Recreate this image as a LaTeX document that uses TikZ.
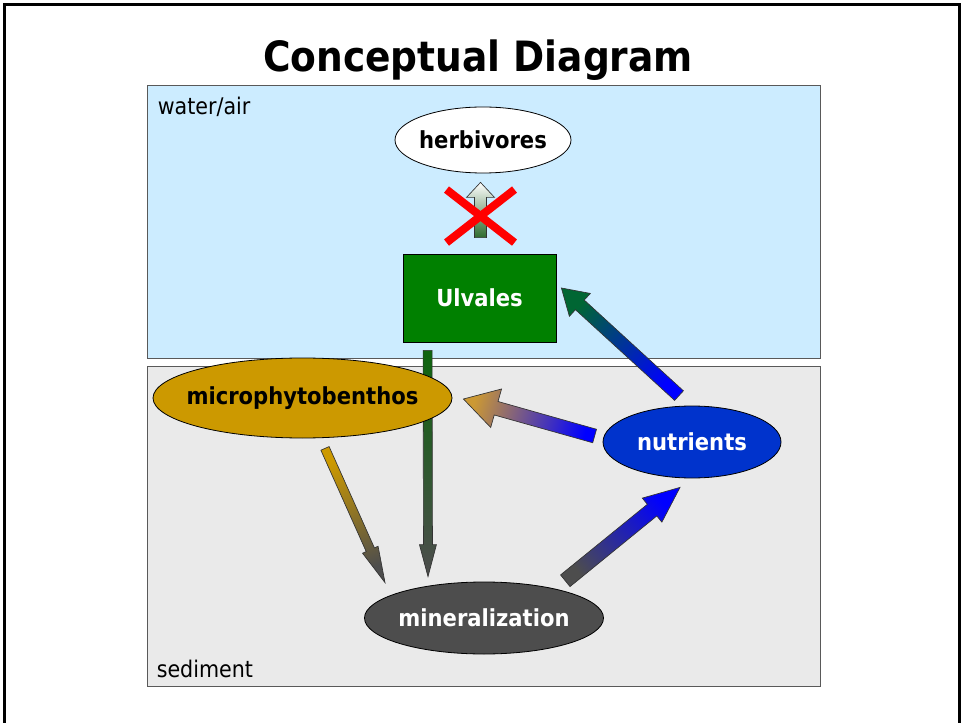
\documentclass[tikz,border=0pt]{standalone}
\usepackage{fontspec}
\setmainfont{DejaVu Sans Condensed}
\usepackage{tikz}
\usetikzlibrary{shapes.geometric,calc}

\definecolor{waterblue}{HTML}{CCECFF}
\definecolor{sedgray}{HTML}{EAEAEA}
\definecolor{ulvgreen}{HTML}{008000}
\definecolor{ulvdark}{HTML}{0F650F}
\definecolor{mpbgold}{HTML}{CC9900}
\definecolor{nutblue}{HTML}{0033CC}
\definecolor{mingray}{HTML}{4D4D4D}
\definecolor{flowblue}{HTML}{0000FF}
\definecolor{flowtan}{HTML}{CC9933}
\definecolor{flowteal}{HTML}{006633}
\definecolor{grazegreen}{HTML}{2E6B2E}

% block arrow from #1 to #2: shaft, head width, head length (px), tail colour, tip colour
\newcommand\fatarrow[7]{%
  \pgfmathanglebetweenpoints{\pgfpointanchor{#1}{center}}{\pgfpointanchor{#2}{center}}%
  \pgfmathsetmacro\fatangle{\pgfmathresult-90}%
  \coordinate (#1-head) at ($(#2)!#5*0.75pt!(#1)$);
  \shade[fatarrow, bottom color=#6, top color=#7, shading angle=\fatangle]
    ($(#1)!#3*0.375pt!90:(#2)$) -- ($(#1-head)!#3*0.375pt!90:(#2)$)
    -- ($(#1-head)!#4*0.375pt!90:(#2)$) -- (#2)
    -- ($(#1-head)!#4*0.375pt!-90:(#2)$) -- ($(#1-head)!#3*0.375pt!-90:(#2)$)
    -- ($(#1)!#3*0.375pt!-90:(#2)$) -- cycle;
}

\begin{document}
\begin{tikzpicture}[x=0.75pt, y=-0.75pt,
    every node/.style={font=\fontsize{17.6}{20}\selectfont\bfseries},
    zone/.style={draw=black!65, line width=0.75pt, minimum width=504.75pt},
    zonelabel/.style={font=\fontsize{17.2}{20}\selectfont, anchor=base west, inner sep=0pt},
    blob/.style={ellipse, draw=black, line width=0.6pt, inner sep=0pt},
    fatarrow/.style={draw=black!80, line width=0.5pt},
    cross/.style={draw=red, line width=6pt},
  ]
  \useasboundingbox (0,0) rectangle (963,723);
  \draw[line width=2.25pt] (4,740) -- (4,5) -- (959,5) -- (959,740);

  \node[font=\fontsize{31.3}{36}\selectfont\bfseries, anchor=base] (title) at (478,72) {Conceptual Diagram};

  \node[zone, fill=waterblue, minimum height=204pt] (water) at (483.5,222) {};
  \node[zone, fill=sedgray, minimum height=240pt] (sediment) at (483.5,526) {};
  \node[zonelabel] (waterlabel) at ($(water.north west)+(11,29)$) {water/air};
  \node[zonelabel] (sedlabel) at ($(sediment.south west)+(10,-9)$) {sediment};

  \node[blob, fill=white, minimum width=132pt, minimum height=49.5pt] (herbivores) at (483,140) {\makebox[0pt]{herbivores}};
  \node[draw=black, line width=0.6pt, fill=ulvgreen, text=white, minimum width=114.75pt, minimum height=66pt] (ulvales) at (479.5,298) {Ulvales};
  \node[blob, fill=mingray, text=white, minimum width=179.25pt, minimum height=54pt] (mineral) at (484,618) {\makebox[0pt]{mineralization}};
  \node[blob, fill=nutblue, text=white, minimum width=133.5pt, minimum height=54pt] (nutrients) at (692,442) {\makebox[0pt]{nutrients}};

  \coordinate (ulv-out) at ($(ulvales.south west)+(25,8)$);
  \coordinate (min-in1) at ($(mineral.north)+(-56,-5)$);
  \fatarrow{ulv-out}{min-in1}{9}{17}{32}{ulvdark}{mingray}

  \node[blob, fill=mpbgold, minimum width=224.25pt, minimum height=60pt] (mpb) at (302.5,398) {\makebox[0pt]{microphytobenthos}};

  \coordinate (mpb-out) at ($(mpb.south)+(22.5,10)$);
  \coordinate (min-in2) at ($(mineral.north)+(-99,1)$);
  \fatarrow{mpb-out}{min-in2}{9}{17}{36}{mpbgold}{mingray}

  \coordinate (min-out) at ($(mineral.north east)+(-3.5,-11.5)$);
  \coordinate (nut-in) at ($(nutrients.south)+(-12,9)$);
  \fatarrow{min-out}{nut-in}{15}{31}{36}{mingray}{flowblue}

  \coordinate (nut-out1) at ($(nutrients.west)+(-8,-6)$);
  \coordinate (mpb-in) at ($(mpb.east)+(11,1)$);
  \fatarrow{nut-out1}{mpb-in}{14}{40}{34}{flowblue}{flowtan}

  \coordinate (nut-out2) at ($(nutrients.north)+(-13,-10)$);
  \coordinate (ulv-in) at ($(ulvales.east)+(5,-10)$);
  \fatarrow{nut-out2}{ulv-in}{13}{31}{25}{flowblue}{flowteal}

  \coordinate (ulv-up) at ($(ulvales.north)+(1,-16)$);
  \coordinate (herb-in) at ($(herbivores.south)+(-2.5,9)$);
  \fatarrow{ulv-up}{herb-in}{12}{28}{15}{grazegreen}{white}

  \coordinate (block) at ($(ulv-up)!0.39!(herb-in)$);
  \draw[cross] ($(block)+(-34,-26.5)$) -- ($(block)+(34,26.5)$);
  \draw[cross] ($(block)+(-34,26.5)$) -- ($(block)+(34,-26.5)$);
\end{tikzpicture}
\end{document}
